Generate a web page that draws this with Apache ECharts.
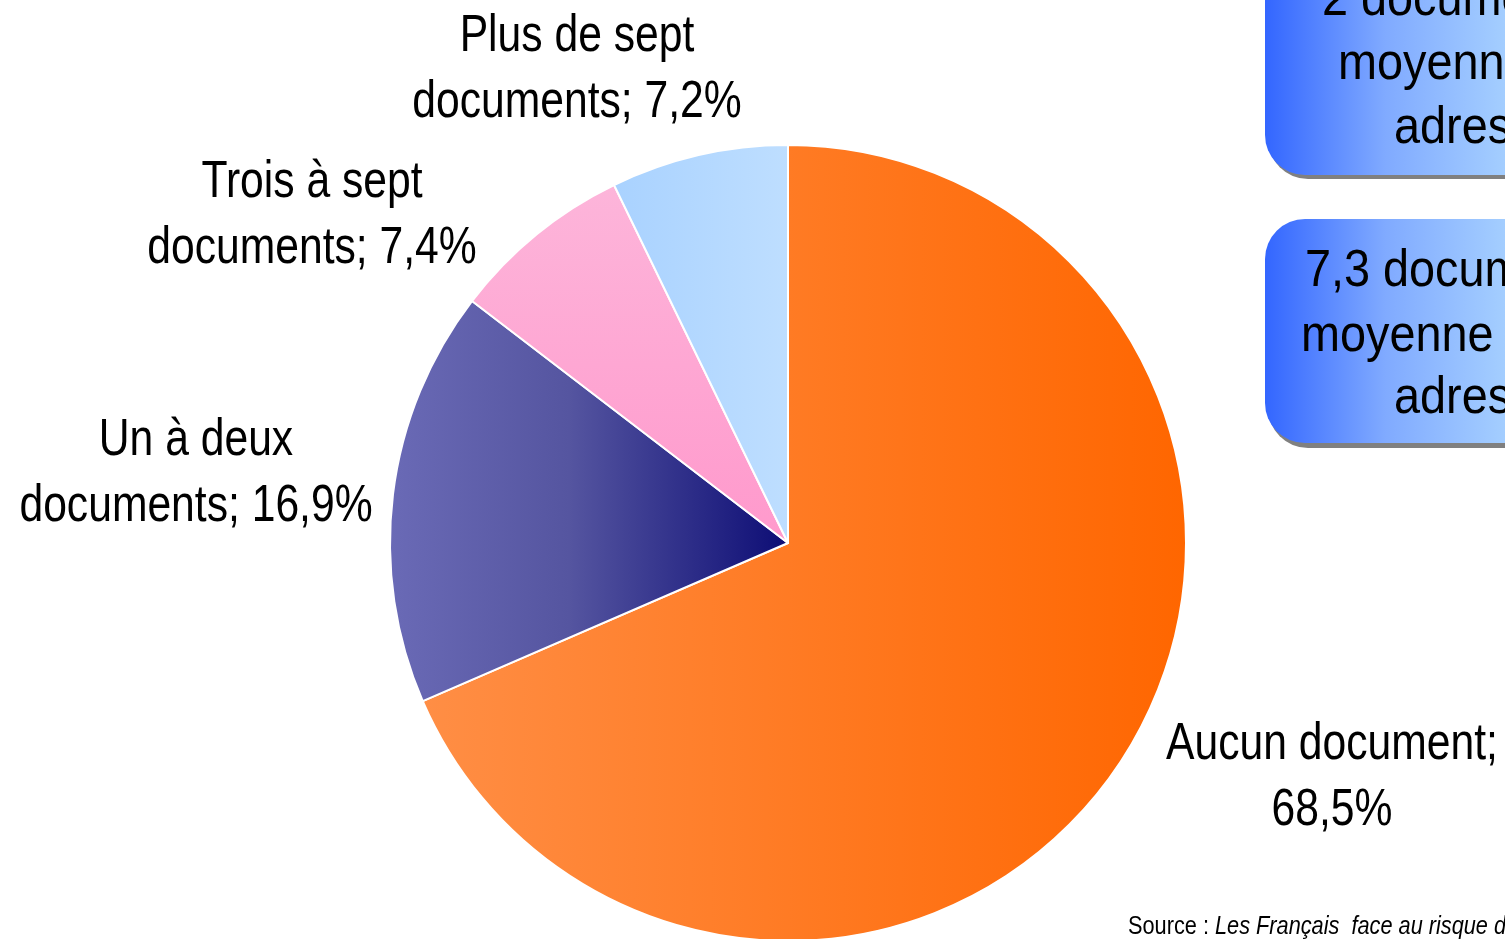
<!DOCTYPE html>
<html>
<head>
<meta charset="utf-8">
<script src="https://cdn.jsdelivr.net/npm/echarts@6/dist/echarts.min.js"></script>
<style>
html,body{margin:0;padding:0;background:#fff;}
#chart{width:1505px;height:939px;}
</style>
</head>
<body>
<div id="chart"></div>
<script>
var categories = ["Aucun document", "Un à deux\ndocuments", "Trois à sept\ndocuments", "Plus de sept\ndocuments"];
var values = [68.5, 16.9, 7.4, 7.2];
var boxLines1 = ["2 documents en", "moyenne par", "adresse"];
var boxLines2 = ["7,3 documents en", "moyenne par une", "adresse"];
var sourceText = "Les Français  face au risque de";

var FONT = '"Liberation Sans", Arial, sans-serif';
var NARROW = 0.82;
var BOXNARROW = 0.9;
var labelPos = [[1332, 778], [196, 474], [312, 216], [577, 70]];

var fills = [
  {type:'linear', global:true, x:423, y:0, x2:1187, y2:0, colorStops:[{offset:0,color:'#FF8E45'},{offset:1,color:'#FF6600'}]},
  {type:'linear', global:true, x:390, y:0, x2:788, y2:0, colorStops:[{offset:0,color:'#6A6AB6'},{offset:0.45,color:'#5555A0'},{offset:1,color:'#0D0D75'}]},
  {type:'linear', global:true, x:0, y:186, x2:0, y2:543, colorStops:[{offset:0,color:'#FDB5DA'},{offset:1,color:'#FF99CC'}]},
  {type:'linear', global:true, x:615, y:0, x2:788, y2:0, colorStops:[{offset:0,color:'#A9D2FF'},{offset:1,color:'#BEDEFF'}]}
];

var boxFill = {type:'linear', global:true, x:1265, y:0, x2:1505, y2:0, colorStops:[{offset:0,color:'#3366FF'},{offset:0.5,color:'#80AAFF'},{offset:1,color:'#A4CEFF'}]};

function fmt(v){ return v.toFixed(1).replace('.', ','); }

var data = categories.map(function(c, i){
  return {name:c, value:values[i], itemStyle:{color:fills[i]}};
});

function textEl(str, x, y, size, align, scale){
  return {type:'text', x:x, y:y, z:10, scaleX:scale||NARROW, silent:true,
    style:{text:str, fill:'#000', font: size + 'px ' + FONT, textAlign:align||'left', textVerticalAlign:'middle', lineHeight:66}};
}

var graphics = [
  {type:'rect', z:5, shape:{x:1265, y:-120, width:420, height:295, r:40}, style:{fill:boxFill, shadowColor:'#808080', shadowOffsetX:3, shadowOffsetY:4, shadowBlur:0}},
  {type:'rect', z:5, shape:{x:1265, y:219, width:420, height:224, r:40}, style:{fill:boxFill, shadowColor:'#808080', shadowOffsetX:3, shadowOffsetY:5, shadowBlur:0}},
  textEl(boxLines1[0], 1322, 1, 52, 'left', BOXNARROW),
  textEl(boxLines1[1], 1338, 65, 52, 'left', BOXNARROW),
  textEl(boxLines1[2], 1394, 129, 52, 'left', BOXNARROW),
  textEl(boxLines2[0], 1305, 272, 52, 'left', BOXNARROW),
  textEl(boxLines2[1], 1301, 337, 52, 'left', BOXNARROW),
  textEl(boxLines2[2], 1394, 399, 52, 'left', BOXNARROW),
  {type:'text', x:1128, y:927, z:10, scaleX:NARROW, silent:true, style:{rich:{n:{font:'26.5px ' + FONT, fill:'#000'}, i:{font:'italic 26.5px ' + FONT, fill:'#000'}}, text:'{n|Source : }{i|' + sourceText + '}', textVerticalAlign:'middle'}}
];

// slice labels built from the data arrays
categories.forEach(function(c, i){
  var txt = c + ';' + (i === 0 ? '\n' : ' ') + fmt(values[i]) + '%';
  graphics.push(textEl(txt, labelPos[i][0], labelPos[i][1], 52, 'center'));
});

var chart = echarts.init(document.getElementById('chart'), null, {renderer:'canvas'});
chart.setOption({
  backgroundColor:'#fff',
  animation:false,
  graphic: graphics,
  series:[{
    type:'pie',
    center:[788, 543],
    radius:[0, 398],
    startAngle:90,
    clockwise:true,
    itemStyle:{borderColor:'#fff', borderWidth:2},
    emphasis:{disabled:true},
    label:{show:false},
    labelLine:{show:false},
    data:data
  }]
});
</script>
</body>
</html>
